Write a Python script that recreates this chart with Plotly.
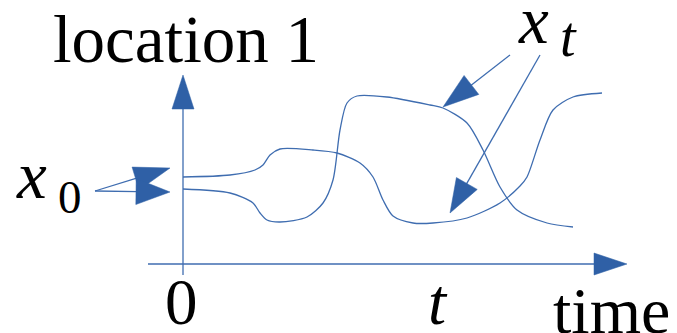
import plotly.graph_objects as go
import numpy as np

# Coordinates: t = horizontal position (0 at vertical axis), loc = vertical position (0 at time axis)
curve_a_t = [0, 47, 72, 80, 87, 97, 130, 154, 177, 190, 200, 210, 230, 250, 284, 317, 337, 344, 357, 370, 390, 419]
curve_a_y = [88, 90, 95, 100, 110, 116, 115, 112, 102, 88, 65, 49, 42, 42, 47, 62, 79, 88, 125, 155, 168, 172]
curve_b_t = [0, 47, 70, 77, 84, 97, 124, 140, 150, 157, 164, 174, 204, 247, 260, 284, 300, 317, 334, 364, 390]
curve_b_y = [76, 72, 62, 52, 45, 43, 48, 62, 85, 135, 162, 169, 168, 160, 157, 142, 115, 78, 55, 42, 38]

# arrows: (start_t, start_y, tip_t, tip_y, head_len, head_halfwidth)
arrows = [
    (0, -10, 0, 190, 34, 11),        # vertical axis
    (-35, 1, 444, 1, 33, 11),        # time axis
    (-88, 74, -13, 97, 36, 12),      # x0 upper
    (-88, 74, -13, 73, 34, 13),      # x0 lower
    (327, 210, 260, 158, 36, 12),    # xt upper
    (357, 210, 267, 52, 34, 12),     # xt lower
]

LINE = "#3f6db0"
HEAD = "#2f60a6"

fig = go.Figure()
for tt, yy in [(curve_a_t, curve_a_y), (curve_b_t, curve_b_y)]:
    fig.add_trace(go.Scatter(x=tt, y=yy, mode="lines",
                             line=dict(color=LINE, width=1.3, shape="spline", smoothing=0.8),
                             hoverinfo="skip", showlegend=False))

for (x0, y0, x1, y1, hl, hw) in arrows:
    d = np.array([x1 - x0, y1 - y0], float)
    d /= np.linalg.norm(d)
    n = np.array([-d[1], d[0]])
    base = np.array([x1, y1]) - d * hl
    fig.add_trace(go.Scatter(x=[x0, base[0] + d[0] * 2], y=[y0, base[1] + d[1] * 2], mode="lines",
                             line=dict(color=LINE, width=1.3), hoverinfo="skip", showlegend=False))
    p1 = base + n * hw
    p2 = base - n * hw
    fig.add_trace(go.Scatter(x=[x1, p1[0], p2[0], x1], y=[y1, p1[1], p2[1], y1], mode="lines",
                             fill="toself", fillcolor=HEAD, line=dict(color=HEAD, width=0.5),
                             hoverinfo="skip", showlegend=False))

SERIF = "Liberation Serif"
texts = [
    dict(x=3, y=226, text="location 1", size=67, xanchor="center"),
    dict(x=-169, y=90, text="<i>x</i>", size=67, xanchor="left"),
    dict(x=-113, y=68, text="0", size=47, xanchor="center"),
    dict(x=333, y=245, text="<i>x</i>", size=67, xanchor="left"),
    dict(x=385, y=228, text="<i>t</i>", size=56, xanchor="center"),
    dict(x=-2, y=-37, text="0", size=65, xanchor="center"),
    dict(x=255, y=-37, text="<i>t</i>", size=65, xanchor="center"),
    dict(x=428, y=-45, text="time", size=66, xanchor="center"),
]
for t in texts:
    fig.add_annotation(x=t["x"], y=t["y"], text=t["text"], showarrow=False,
                       xanchor=t["xanchor"], yanchor="middle",
                       font=dict(family=SERIF, size=t["size"], color="black"))

fig.update_layout(width=677, height=333, margin=dict(l=0, r=0, t=0, b=0),
                  paper_bgcolor="white", plot_bgcolor="white",
                  xaxis=dict(range=[-183, 494], visible=False, fixedrange=True),
                  yaxis=dict(range=[-68, 265], visible=False, fixedrange=True))
fig.write_html("out.html", config={"displayModeBar": False},
               post_script="document.body.style.margin='0';document.body.style.overflow='hidden';")
